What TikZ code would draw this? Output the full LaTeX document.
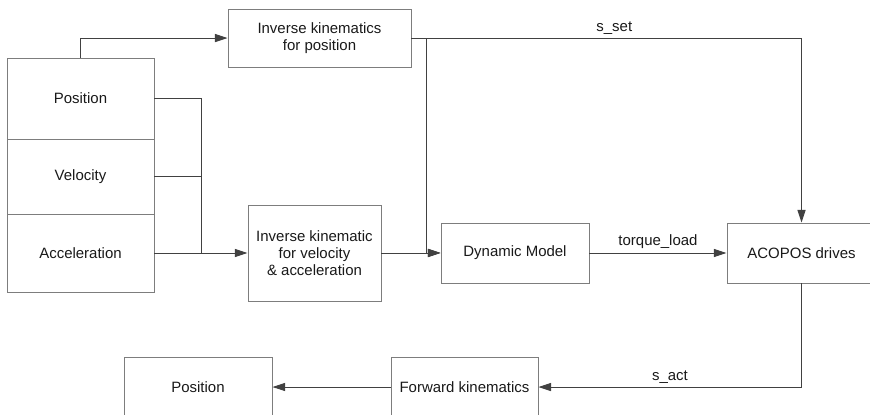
\documentclass[tikz,border=0pt]{standalone}
\usepackage{fontspec}
\setmainfont{Liberation Sans}
\usepackage{tikz}
\usetikzlibrary{arrows.meta,positioning,calc}
\usepackage{xcolor}
\definecolor{boxgrey}{RGB}{125,125,125}
\definecolor{linegrey}{RGB}{65,65,65}
\definecolor{textgrey}{RGB}{25,25,25}
\tikzset{
    blk/.style={draw=boxgrey, line width=0.9pt, align=center, inner sep=0pt,
                font=\fontsize{14.2}{15.8}\selectfont, text=textgrey},
}

\begin{document}
\begin{tikzpicture}[
    arr/.style={-{Triangle[length=0.42cm,width=0.27cm]}, line width=0.9pt, linegrey},
    wire/.style={line width=0.9pt, linegrey},
    lbl/.style={font=\fontsize{14.2}{15.8}\selectfont, text=textgrey, above}
]
    \clip (0,0) rectangle (29,-13.833);
    \node[blk, minimum width=6.1cm, minimum height=1.933cm] (invpos) at (10.65,-1.267) {Inverse kinematics\\for position};
    \node[blk, minimum width=4.9cm, minimum height=2.7cm] (pos) at (2.683,-3.283) {Position};
    \node[blk, minimum width=4.9cm, minimum height=2.5cm] (vel) at (2.683,-5.883) {Velocity};
    \node[blk, minimum width=4.9cm, minimum height=2.6cm] (acc) at (2.683,-8.433) {Acceleration};
    \node[blk, minimum width=4.433cm, minimum height=3.2cm] (ikva) at (10.483,-8.433) {Inverse kinematic\\for velocity\\\& acceleration};
    \node[blk, minimum width=4.933cm, minimum height=2cm] (dyn) at (17.167,-8.433) {Dynamic Model};
    \node[blk, minimum width=4.967cm, minimum height=2cm] (acopos) at (26.717,-8.433) {ACOPOS drives};
    \node[blk, minimum width=4.9cm, minimum height=2cm] (fwd) at (15.483,-12.9) {Forward kinematics};
    \node[blk, minimum width=4.933cm, minimum height=2cm] (outpos) at (6.6,-12.9) {Position};
    \coordinate (jn) at ($(acc.east)!0.5!(ikva.west)$);
    \coordinate (br) at ($(invpos.east)+(0.5,0)$);
    \draw[arr] (pos.north) |- (invpos.west);
    \draw[wire] (pos.east) -| (jn);
    \draw[wire] (vel.east) -| (jn);
    \draw[arr] (acc.east) -- (ikva.west);
    \draw[arr] (invpos.east) -| node[lbl, pos=0.26] {s\_set} (acopos.north);
    \draw[arr] (br) |- (dyn.west);
    \draw[arr] (ikva.east) -- (dyn.west);
    \draw[arr] (dyn.east) -- node[lbl] {torque\_load} (acopos.west);
    \draw[arr] (acopos.south) |- node[lbl, pos=0.75] {s\_act} (fwd.east);
    \draw[arr] (fwd.west) -- (outpos.east);
\end{tikzpicture}
\end{document}
